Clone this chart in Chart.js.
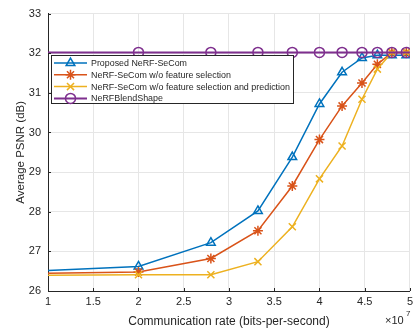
<!DOCTYPE html>
<html>
<head>
<meta charset="utf-8">
<script src="https://cdn.jsdelivr.net/npm/chart.js@4/dist/chart.umd.min.js"></script>
<style>
  html, body { margin: 0; padding: 0; background: #fff; }
  #wrap { width: 417px; height: 329px; }
</style>
</head>
<body>
<div id="wrap"><canvas id="chart" width="417" height="329"></canvas></div>
<script>
// communication rate, in units of 1e7 bits per second
const rate = [1, 2, 2.8, 3.32, 3.7, 4, 4.25, 4.47, 4.64, 4.8, 4.96, 5];

const proposed = [26.52, 26.62, 27.22, 28.02, 29.38, 30.72, 31.52, 31.88, 31.95, 31.95, 31.95, 31.95];
const noSelection = [26.45, 26.48, 26.82, 27.52, 28.65, 29.82, 30.67, 31.25, 31.72, 32.02, 32.02, 32.02];
const noSelectionPred = [26.4, 26.41, 26.41, 26.74, 27.62, 28.83, 29.66, 30.84, 31.6, 32.02, 32.02, 32.02];
const blendShape = [32.02, 32.02, 32.02, 32.02, 32.02, 32.02, 32.02, 32.02, 32.02, 32.02, 32.02, 32.02];

const seriesNames = [
  'Proposed NeRF-SeCom',
  'NeRF-SeCom w/o feature selection',
  'NeRF-SeCom w/o feature selection and prediction',
  'NeRFBlendShape',
];
const xTicks = [1, 1.5, 2, 2.5, 3, 3.5, 4, 4.5, 5];
const yTicks = [26, 27, 28, 29, 30, 31, 32, 33];

const FONT = 'Liberation Sans, Arial, Helvetica, sans-serif';
const AXIS = '#262626';
const GRID = '#e6e6e6';

// end points sit on the plot edges, no marker drawn there
const radii = rate.map((_, i) => (i === 0 || i === rate.length - 1 ? 0 : 5));

function makeSet(label, values, color, style, width) {
  return {
    label,
    data: rate.map((x, i) => ({ x, y: values[i] })),
    borderColor: color,
    backgroundColor: 'transparent',
    pointBorderColor: color,
    pointBackgroundColor: 'transparent',
    pointStyle: style,
    pointRadius: radii,
    pointBorderWidth: 1.5,
    borderWidth: width,
    tension: 0,
  };
}

const datasets = [
  makeSet(seriesNames[3], blendShape, '#7E2F8E', 'circle', 2),
  makeSet(seriesNames[2], noSelectionPred, '#EDB120', 'crossRot', 1.5),
  makeSet(seriesNames[1], noSelection, '#D95319', 'star', 1.5),
  makeSet(seriesNames[0], proposed, '#0072BD', 'triangle', 1.5),
];

// inward tick marks like the original figure
const innerTicks = {
  id: 'innerTicks',
  afterDatasetsDraw(chart) {
    const { ctx, chartArea: a, scales } = chart;
    ctx.save();
    ctx.strokeStyle = AXIS;
    ctx.lineWidth = 1;
    ctx.beginPath();
    xTicks.forEach(v => {
      const px = Math.round(scales.x.getPixelForValue(v)) + 0.5;
      ctx.moveTo(px, a.bottom);
      ctx.lineTo(px, a.bottom - 3);
    });
    yTicks.forEach(v => {
      const py = Math.round(scales.y.getPixelForValue(v)) + 0.5;
      ctx.moveTo(a.left, py);
      ctx.lineTo(a.left + 3, py);
    });
    ctx.stroke();
    ctx.restore();
  },
};

// legend box inside the plot, with line + marker samples
const labelWidths = [96, 140, 199, 72];
const boxLegend = {
  id: 'boxLegend',
  afterDraw(chart) {
    const { ctx } = chart;
    const left = 51, top = 55, w = 242, h = 48;
    ctx.save();
    ctx.fillStyle = '#fff';
    ctx.fillRect(left, top, w, h);
    ctx.strokeStyle = AXIS;
    ctx.lineWidth = 1;
    ctx.strokeRect(left + 0.5, top + 0.5, w, h);
    ctx.font = '9.3px ' + FONT;
    ctx.textBaseline = 'middle';
    const order = [3, 2, 1, 0];
    order.forEach((di, row) => {
      const ds = chart.data.datasets[di];
      const y = top + 8 + row * 11.8;
      ctx.strokeStyle = ds.borderColor;
      ctx.lineWidth = ds.borderWidth;
      ctx.beginPath();
      ctx.moveTo(54, y);
      ctx.lineTo(87, y);
      ctx.stroke();
      ctx.fillStyle = 'rgba(0,0,0,0)';
      ctx.lineWidth = 1.5;
      Chart.helpers.drawPoint(ctx, {
        pointStyle: ds.pointStyle,
        radius: 5,
        rotation: 0,
        borderWidth: 1.5,
      }, 70.5, y);
      ctx.fillStyle = AXIS;
      ctx.fillText(ds.label, 91, y + 0.5, labelWidths[row]);
    });
    ctx.restore();
  },
};

// the x10^7 exponent label at the end of the x axis
const exponentLabel = {
  id: 'exponentLabel',
  afterDraw(chart) {
    const { ctx } = chart;
    ctx.save();
    ctx.fillStyle = AXIS;
    ctx.textBaseline = 'alphabetic';
    ctx.font = '11px ' + FONT;
    ctx.fillText('\u00d710', 385, 324);
    ctx.font = '8px ' + FONT;
    ctx.fillText('7', 406, 316);
    ctx.restore();
  },
};

new Chart(document.getElementById('chart'), {
  type: 'line',
  data: { datasets },
  options: {
    responsive: false,
    animation: false,
    layout: { padding: { top: 4, right: 6, left: 0, bottom: 0 } },
    plugins: {
      legend: { display: false },
      tooltip: { enabled: false },
    },
    scales: {
      x: {
        type: 'linear',
        min: 1,
        max: 5,
        afterBuildTicks: s => { s.ticks = xTicks.map(v => ({ value: v })); },
        afterFit: s => { s.height = 38; },
        ticks: {
          color: AXIS,
          font: { family: FONT, size: 11 },
          padding: 4,
          maxRotation: 0,
          callback: v => String(v),
        },
        grid: { color: GRID, drawTicks: false },
        border: { color: AXIS, width: 1 },
        title: {
          display: true,
          text: 'Communication rate (bits-per-second)',
          color: AXIS,
          font: { family: FONT, size: 12 },
          padding: { top: 1, bottom: 0 },
        },
      },
      y: {
        min: 26,
        max: 33,
        afterBuildTicks: s => { s.ticks = yTicks.map(v => ({ value: v })); },
        afterFit: s => { s.width = 48; },
        ticks: {
          color: AXIS,
          font: { family: FONT, size: 11 },
          padding: 7,
          callback: v => String(v),
        },
        grid: { color: GRID, drawTicks: false },
        border: { color: AXIS, width: 1 },
        title: {
          display: true,
          text: 'Average PSNR (dB)',
          color: AXIS,
          font: { family: FONT, size: 11.5 },
          padding: { top: 14, bottom: 0 },
        },
      },
    },
  },
  plugins: [innerTicks, boxLegend, exponentLabel],
});
</script>
</body>
</html>
